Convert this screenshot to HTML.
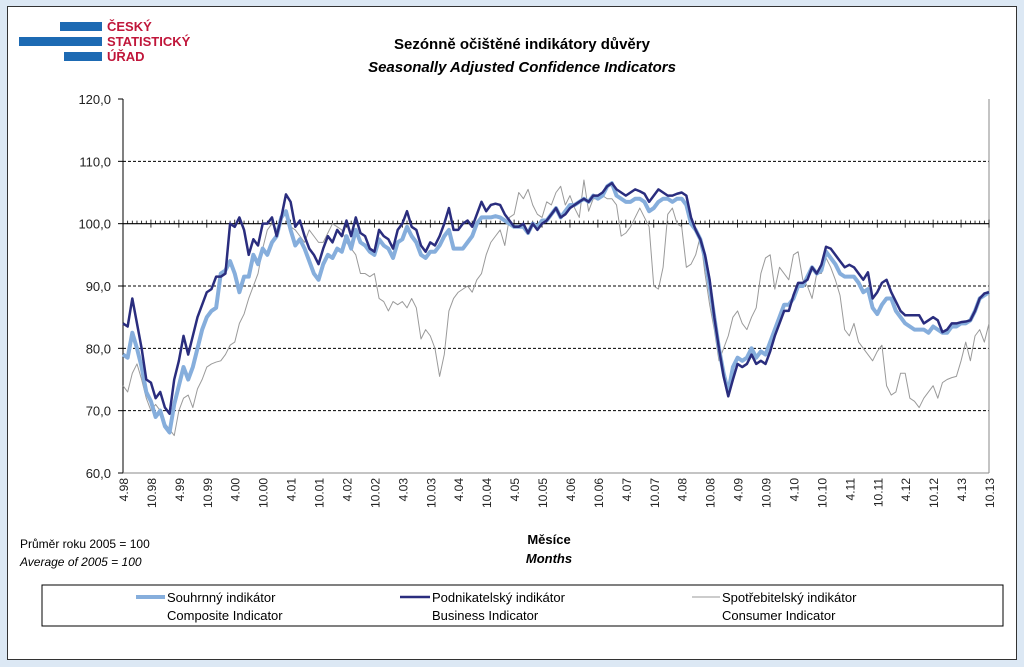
<!DOCTYPE html>
<html><head><meta charset="utf-8"><style>
body{margin:0;background:#fff;font-family:"Liberation Sans",Arial,sans-serif}
#wrap{position:absolute;left:0;top:0;width:1024px;height:667px;background:#dce8f4}
#inner{position:absolute;left:7px;top:6px;width:1008px;height:652px;background:#fff;border:1px solid #333}
</style></head><body>
<div id="wrap">
<div id="inner"></div>
<svg id="svg" width="1024" height="667" style="position:absolute;left:0;top:0">
<g>
<rect x="60" y="22" width="42" height="9" fill="#1d6ab3"/>
<rect x="19" y="37" width="83" height="9" fill="#1d6ab3"/>
<rect x="64" y="52" width="38" height="9" fill="#1d6ab3"/>
<text x="107" y="31" font-size="13" font-weight="bold" fill="#c0163a">ČESKÝ</text>
<text x="107" y="46" font-size="13" font-weight="bold" fill="#c0163a">STATISTICKÝ</text>
<text x="107" y="61" font-size="13" font-weight="bold" fill="#c0163a">ÚŘAD</text>
</g>
<text x="522" y="49" font-size="15" font-weight="bold" text-anchor="middle">Sezónně očištěné indikátory důvěry</text>
<text x="522" y="72" font-size="15" font-weight="bold" font-style="italic" text-anchor="middle">Seasonally Adjusted Confidence Indicators</text>
<g id="grid"></g><g id="axes"></g><g id="series"></g>
<text x="549" y="544" font-size="13" font-weight="bold" text-anchor="middle">Měsíce</text>
<text x="549" y="563" font-size="13" font-weight="bold" font-style="italic" text-anchor="middle">Months</text>
<text x="20" y="548" font-size="12">Průměr roku 2005 = 100</text>
<text x="20" y="566" font-size="12" font-style="italic">Average of 2005 = 100</text>
<rect x="42" y="585" width="961" height="41" fill="#fff" stroke="#000"/>
<g><line x1="136" y1="597" x2="165" y2="597" stroke="#86aedc" stroke-width="4"/><text x="167" y="602" font-size="13">Souhrnný indikátor</text><text x="167" y="620" font-size="13">Composite Indicator</text></g>
<g><line x1="400" y1="597" x2="430" y2="597" stroke="#2a2d7e" stroke-width="2.5"/><text x="432" y="602" font-size="13">Podnikatelský indikátor</text><text x="432" y="620" font-size="13">Business Indicator</text></g>
<g><line x1="692" y1="597" x2="720" y2="597" stroke="#999" stroke-width="1"/><text x="722" y="602" font-size="13">Spotřebitelský indikátor</text><text x="722" y="620" font-size="13">Consumer Indicator</text></g>
</svg></div>
<script>
const business=[84,83.5,88,84,80,75,74.5,72,73,
70.5,69.5,75,78,82,79,82,85,87,89,89.5,91.5,
91.5,92,100,99.5,101,99,95,97.5,96.5,100,100,101,
98,101,104.7,103.5,99.5,100.5,98,96,95,93.5,96,98,
97,99,98,100.5,98,101,98.5,98,96,95.5,99,98,
97.5,96,99,100,102,99.5,99,96.5,95.5,97,96.5,98,
100,102.5,99,99,100,100.5,99.5,101.5,103.5,102,103,103.2,
103,101.5,100.5,99.5,99.5,100,98.5,100,99,100,100.5,101.5,
102.5,101,101.5,102.5,103,103.5,104,103.5,104.5,104.5,105,106,
106.5,105.5,105,104.5,105,105.5,105.2,104.8,103.5,104.5,105.5,105,
104.5,104.5,104.8,105,104.5,101,99,97.5,95,91,85,80,
75.5,72.3,75,77.5,77,77.5,79,77.5,78,77.5,79.5,82,
84,86,86,88.5,90.5,90.5,91,93,92,93.4,96.3,96,
95,94,93,93.4,93,92,91,92.2,88,89,90.5,91,
89,87.5,86,85.3,85.3,85.3,85.3,84,84.5,85,84.5,82.6,
83,84,84,84.2,84.3,84.5,86,88,88.8,89];
const composite=[79,78.5,82.5,80,77,73,71.5,69,70,
67.5,66.5,71,74,77,75,77,80,83,85,86,86.5,
92,92.5,94,92,89,91.5,91.5,95,93.5,96,95,97,
98,101,102,99,96.5,97.5,96,94,92,91,93.5,95,
94.5,96,95.5,98,96,99,97,96.5,95.5,95,97.5,96.5,
96,94.5,97,97.5,99.5,98,97,95,94.5,95.5,95.5,96.5,
98,99,96,96,96,97,98,100,101,101,101,101.2,
101,100.5,100,99.5,99.5,99.5,98.5,100,99.5,100.5,100.5,101.5,
102.5,101,102,103,103,103.5,104,103.5,104.5,104,104.5,106,
106.5,104.5,104,103.5,103.5,104,104,103.5,102,102.5,103.5,104,
104,103.5,104,104,103,100,99,97.5,94.5,90,85,80,
76,73,77,78.5,78,78.5,80,78.5,79.5,79,81,83,
85,87,87,88,90,90,91.5,93,92,92.5,95.5,94.5,
93.5,92,91.5,91.5,91.5,90.5,89,89.5,86.5,85.5,87,88,
88,86,85,84,83.5,83,83,83,82.5,83.5,83,82.5,
82.5,83.5,83.5,84,84,84.5,86,88,88.5,89];
const consumer=[74,73,76,77.5,75,72,70,71,70,
68,67,66,70,72,72.5,70.5,73.5,75,77,77.5,77.8,
78,79,80.5,81,84,85.5,88,90,92,96,99,100,
99,101,102,99.5,99,98,97,99,98,97,97,98.5,
100,99.5,99,97,96,95,92,92,91.5,92,88,87.5,
86,87.5,87,87.5,86.5,88,86.5,81.5,83,82,80,75.5,
79,86,88,89,89.5,90,89,91,92,95,97,98,
99,96.5,101,101.5,105,104,105.5,103,101.5,101,103.5,103,
105,106,103,104.5,102.5,101,107,102,104,104,104.5,104,
104,103,98,98.5,99.5,101,102.5,101,99.5,90,89.5,93,
101.5,102.5,100,99.5,93,93.5,95,98,92,87,83,78,
80,82,85,86,84,83,85,86.5,92,94.5,95,89.5,
93,92,91,95,95.5,91,90,88,92,92,94.5,93,
91,88.5,83,82,84,81,80,79,78,79.5,80.5,74,
72.5,73,76,76,72,71.5,70.5,72,73,74,72,74.5,
75,75.3,75.5,78,81,78,82,83,81,84];
const yTicks=[60,70,80,90,100,110,120];
const categories=[];for(let y=1998,m=4;!(y===2013&&m>10);){categories.push(m+'.'+String(y).slice(2));m++;if(m>12){m=1;y++;}}
const NS='http://www.w3.org/2000/svg';
const L=123,R=989,T=99,B=473,YMIN=60,YMAX=120;
const N=categories.length;
const x=i=>L+i*(R-L)/(N-1);
const y=v=>B-(v-YMIN)*(B-T)/(YMAX-YMIN);
function mk(tag,attrs,parent){const e=document.createElementNS(NS,tag);for(const k in attrs)e.setAttribute(k,attrs[k]);document.getElementById(parent).appendChild(e);return e;}
yTicks.forEach(v=>{
 if(v>60&&v<120&&v!==100){const g=mk('line',{x1:L,x2:R,y1:y(v),y2:y(v),stroke:'#000','stroke-width':1,'stroke-dasharray':'3,2'},'grid');
 
 }
 const t=mk('text',{x:111,y:y(v)+5,'font-size':13,'text-anchor':'end',fill:'#222'},'axes');t.textContent=v.toFixed(1).replace('.',',');
 
 
 mk('line',{x1:L-5,x2:L,y1:y(v),y2:y(v),stroke:'#000'},'axes');
});
const ya=mk('line',{x1:L,x2:L,y1:T,y2:B,stroke:'#000'},'axes');


const xa=mk('line',{x1:L,x2:R,y1:B,y2:B,stroke:'#888'},'axes');


mk('line',{x1:R,x2:R,y1:T,y2:B,stroke:'#888'},'axes');
const hl=mk('line',{x1:L,x2:R,y1:y(100),y2:y(100),stroke:'#000','stroke-width':1.2},'axes');


categories.forEach((c,i)=>{
 const major=i%6===0;
 mk('line',{x1:x(i),x2:x(i),y1:y(100)-(major?4:3),y2:y(100)+(major?4:0),stroke:'#000','stroke-width':0.8},'axes');
 if(major){const t=mk('text',{transform:`translate(${x(i)+5},478) rotate(-90)`,'font-size':12,'text-anchor':'end',fill:'#222'},'axes');t.textContent=c;
 
 }
});
function line(data,color,w,name){const p=mk('polyline',{points:data.map((v,i)=>x(i)+','+y(v)).join(' '),fill:'none',stroke:color,'stroke-width':w,'stroke-linejoin':'round'},'series');
 
 }
line(consumer,'#9a9a9a',1,'consumer-line');
line(composite,'#86aedc',4,'composite-line');
line(business,'#2a2d7e',2.5,'business-line');
</script></body></html>
